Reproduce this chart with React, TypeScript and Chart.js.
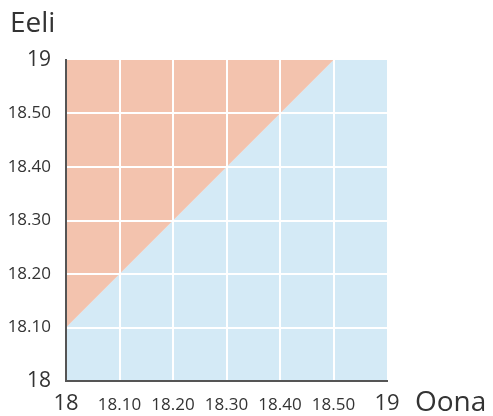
import React, { useEffect, useRef } from "react";
import { Chart, registerables } from "chart.js";

Chart.register(...registerables);

// Axis tick labels (times, 10-minute steps from 18:00 to 19:00)
const xTickLabels = ["18", "18.10", "18.20", "18.30", "18.40", "18.50", "19"];
const yTickLabels = ["18", "18.10", "18.20", "18.30", "18.40", "18.50", "19"];

// Boundary between the two regions, in minutes after 18:00
const boundaryOona = [0, 50, 60];
const boundaryEeli = [10, 60, 60];

const xTitle = "Oona";
const yTitle = "Eeli";

const ORANGE = "#F3C3AE";
const BLUE = "#D4EAF6";
const TEXT = "#333333";
const FONT = "'Open Sans', sans-serif";

const titlesPlugin = {
  id: "axisTitles",
  afterDraw(chart: any) {
    const { ctx, chartArea } = chart;
    ctx.save();
    ctx.fillStyle = TEXT;
    ctx.font = `28px ${FONT}`;
    ctx.textAlign = "left";
    ctx.textBaseline = "alphabetic";
    ctx.fillText(yTitle, 10, chartArea.top - 28);
    ctx.fillText(xTitle, chartArea.right + 28, 411);
    ctx.restore();
  },
};

export default function App() {
  const ref = useRef<HTMLCanvasElement | null>(null);

  useEffect(() => {
    if (!ref.current) return;
    const points = boundaryOona.map((x, i) => ({ x, y: boundaryEeli[i] }));
    const isEdge = (i: number) => i === 0 || i === 6;
    const chart = new Chart(ref.current, {
      type: "line",
      data: {
        datasets: [
          {
            data: points,
            fill: "end",
            backgroundColor: ORANGE,
            borderWidth: 0,
            pointRadius: 0,
            tension: 0,
          },
          {
            data: points,
            fill: "start",
            backgroundColor: BLUE,
            borderWidth: 0,
            pointRadius: 0,
            tension: 0,
          },
        ],
      },
      options: {
        animation: false,
        responsive: true,
        maintainAspectRatio: false,
        layout: { padding: { top: 60, right: 106, left: 0, bottom: 0 } },
        plugins: { legend: { display: false }, tooltip: { enabled: false } },
        scales: {
          x: {
            type: "linear",
            min: 0,
            max: 60,
            afterFit: (s: any) => {
              s.height = 35;
            },
            border: { display: true, color: "#555555", width: 2, z: 2 },
            grid: {
              z: 1,
              drawTicks: false,
              lineWidth: 2,
              color: (c: any) => (isEdge(c.index) ? "rgba(0,0,0,0)" : "#ffffff"),
            },
            ticks: {
              stepSize: 10,
              padding: 10,
              color: TEXT,
              maxRotation: 0,
              autoSkip: false,
              font: (c: any) =>
                isEdge(c.index)
                  ? { family: FONT, size: 22, lineHeight: "25px" }
                  : { family: FONT, size: 17, lineHeight: "28.8px" },
              callback: (v: any) => xTickLabels[Math.round(Number(v) / 10)],
            },
          },
          y: {
            type: "linear",
            min: 0,
            max: 60,
            afterFit: (s: any) => {
              s.width = 66;
            },
            border: { display: true, color: "#555555", width: 2, z: 2 },
            grid: {
              z: 1,
              drawTicks: false,
              lineWidth: 2,
              color: (c: any) => (isEdge(c.index) ? "rgba(0,0,0,0)" : "#ffffff"),
            },
            ticks: {
              stepSize: 10,
              padding: 15,
              color: TEXT,
              autoSkip: false,
              font: (c: any) =>
                isEdge(c.index)
                  ? { family: FONT, size: 21 }
                  : { family: FONT, size: 17 },
              callback: (v: any) => yTickLabels[Math.round(Number(v) / 10)],
            },
          },
        },
      },
      plugins: [titlesPlugin],
    });
    return () => chart.destroy();
  }, []);

  return (
    <div style={{ position: "fixed", left: 0, top: 0, width: 493, height: 416 }}>
      <canvas ref={ref} style={{ display: "block" }} />
    </div>
  );
}
